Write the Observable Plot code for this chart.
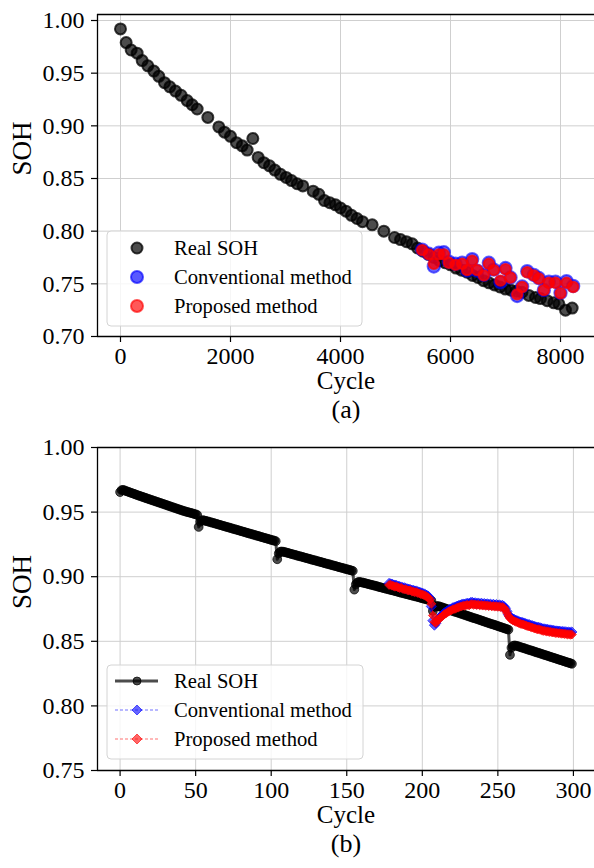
<!DOCTYPE html>
<html>
<head>
<meta charset="utf-8">
<script src="https://cdn.jsdelivr.net/npm/d3@7"></script>
<script src="https://cdn.jsdelivr.net/npm/@observablehq/plot@0.6"></script>
<style>
  html, body { margin: 0; padding: 0; background: #fff; }
  #wrap { position: relative; width: 594px; height: 868px; overflow: hidden; }
  #wrap svg { position: absolute; left: 0; display: block; overflow: visible; }
</style>
</head>
<body>
<div id="wrap"></div>
<script>
// ---------- (a) long-term cycling: SOH sampled every ~100 cycles ----------
const realCycleA = [0, 103, 194, 303, 394, 497, 606, 697, 800, 897, 1000, 1103, 1212, 1303, 1394, 1588, 1788, 1891, 2000, 2109, 2212, 2303, 2406, 2503, 2606, 2709, 2806, 2909, 3012, 3109, 3212, 3315, 3503, 3606, 3709, 3806, 3909, 4000, 4100, 4200, 4300, 4400, 4576, 4788, 4982, 5091, 5200, 5303, 5400, 5500, 5600, 5700, 5800, 5900, 6000, 6100, 6200, 6300, 6400, 6500, 6600, 6700, 6800, 6900, 7000, 7100, 7200, 7300, 7424, 7545, 7636, 7758, 7879, 7970, 8091, 8212];
const realSohA = [0.992, 0.979, 0.972, 0.969, 0.962, 0.957, 0.952, 0.947, 0.941, 0.937, 0.933, 0.929, 0.924, 0.920, 0.916, 0.908, 0.899, 0.894, 0.890, 0.884, 0.881, 0.877, 0.888, 0.870, 0.865, 0.862, 0.858, 0.854, 0.851, 0.848, 0.845, 0.843, 0.838, 0.835, 0.829, 0.827, 0.825, 0.822, 0.819, 0.815, 0.812, 0.809, 0.806, 0.800, 0.794, 0.792, 0.790, 0.788, 0.784, 0.781, 0.778, 0.775, 0.772, 0.770, 0.768, 0.765, 0.763, 0.761, 0.758, 0.756, 0.753, 0.751, 0.749, 0.747, 0.745, 0.744, 0.743, 0.742, 0.739, 0.737, 0.736, 0.734, 0.732, 0.731, 0.725, 0.727];

const predCycleA = [5485, 5606, 5697, 5788, 5879, 5970, 6091, 6212, 6303, 6394, 6485, 6606, 6697, 6788, 6909, 7000, 7091, 7212, 7303, 7394, 7515, 7606, 7697, 7788, 7909, 8000, 8109, 8230];
const convSohA = [0.7825, 0.7785, 0.7665, 0.7795, 0.7800, 0.7710, 0.7690, 0.7700, 0.7625, 0.7735, 0.7625, 0.7585, 0.7700, 0.7635, 0.7515, 0.7650, 0.7560, 0.7385, 0.7475, 0.7620, 0.7585, 0.7555, 0.7440, 0.7520, 0.7520, 0.7415, 0.7525, 0.7480];
const propSohA = [0.782, 0.778, 0.769, 0.778, 0.778, 0.770, 0.768, 0.769, 0.763, 0.772, 0.763, 0.758, 0.769, 0.763, 0.753, 0.764, 0.756, 0.740, 0.747, 0.761, 0.758, 0.755, 0.744, 0.751, 0.751, 0.741, 0.751, 0.747];

const xTicksA = [0, 2000, 4000, 6000, 8000];
const yTicksA = [0.70, 0.75, 0.80, 0.85, 0.90, 0.95, 1.00];

// ---------- (b) one SOH value per cycle, cycles 0..299 ----------
const realSohB = [
  // cycles 0-51
  0.9655, 0.9670, 0.9672, 0.9668, 0.9663, 0.9659, 0.9655, 0.9650, 0.9646, 0.9642,
  0.9638, 0.9633, 0.9629, 0.9625, 0.9621, 0.9617, 0.9613, 0.9609, 0.9605, 0.9601,
  0.9597, 0.9593, 0.9589, 0.9585, 0.9581, 0.9577, 0.9573, 0.9569, 0.9565, 0.9561,
  0.9557, 0.9553, 0.9549, 0.9545, 0.9541, 0.9537, 0.9533, 0.9529, 0.9525, 0.9521,
  0.9517, 0.9513, 0.9509, 0.9506, 0.9502, 0.9499, 0.9496, 0.9493, 0.9490, 0.9486,
  0.9483, 0.9478,
  // cycles 52-103
  0.9385, 0.9425, 0.9436, 0.9437, 0.9434, 0.9431, 0.9428, 0.9425, 0.9421, 0.9418,
  0.9415, 0.9411, 0.9408, 0.9404, 0.9401, 0.9398, 0.9394, 0.9391, 0.9387, 0.9384,
  0.9381, 0.9377, 0.9374, 0.9370, 0.9367, 0.9364, 0.9360, 0.9357, 0.9353, 0.9350,
  0.9347, 0.9343, 0.9340, 0.9336, 0.9333, 0.9330, 0.9326, 0.9323, 0.9319, 0.9316,
  0.9313, 0.9309, 0.9306, 0.9302, 0.9299, 0.9296, 0.9292, 0.9289, 0.9285, 0.9282,
  0.9279, 0.9275,
  // cycles 104-154
  0.9135, 0.9180, 0.9193, 0.9195, 0.9193, 0.9190, 0.9187, 0.9184, 0.9181, 0.9177,
  0.9174, 0.9171, 0.9168, 0.9164, 0.9161, 0.9158, 0.9155, 0.9152, 0.9148, 0.9145,
  0.9142, 0.9139, 0.9135, 0.9132, 0.9129, 0.9126, 0.9123, 0.9119, 0.9116, 0.9113,
  0.9110, 0.9106, 0.9103, 0.9100, 0.9097, 0.9094, 0.9090, 0.9087, 0.9084, 0.9081,
  0.9077, 0.9074, 0.9071, 0.9068, 0.9065, 0.9061, 0.9058, 0.9055, 0.9052, 0.9048,
  0.9045,
  // cycles 155-206
  0.8900, 0.8940, 0.8955, 0.8960, 0.8958, 0.8956, 0.8953, 0.8950, 0.8947, 0.8944,
  0.8941, 0.8938, 0.8935, 0.8932, 0.8929, 0.8926, 0.8922, 0.8919, 0.8916, 0.8913,
  0.8910, 0.8907, 0.8904, 0.8901, 0.8898, 0.8895, 0.8892, 0.8889, 0.8886, 0.8883,
  0.8879, 0.8876, 0.8873, 0.8870, 0.8867, 0.8864, 0.8861, 0.8858, 0.8855, 0.8852,
  0.8849, 0.8846, 0.8843, 0.8840, 0.8836, 0.8833, 0.8830, 0.8827, 0.8824, 0.8821,
  0.8818, 0.8815,
  // cycles 207-257
  0.8735, 0.8765, 0.8772, 0.8773, 0.8771, 0.8767, 0.8763, 0.8759, 0.8755, 0.8751,
  0.8747, 0.8743, 0.8739, 0.8735, 0.8731, 0.8727, 0.8724, 0.8720, 0.8716, 0.8712,
  0.8708, 0.8704, 0.8700, 0.8696, 0.8692, 0.8688, 0.8684, 0.8680, 0.8677, 0.8673,
  0.8669, 0.8665, 0.8661, 0.8657, 0.8653, 0.8649, 0.8645, 0.8641, 0.8637, 0.8633,
  0.8630, 0.8626, 0.8622, 0.8618, 0.8614, 0.8610, 0.8606, 0.8602, 0.8598, 0.8594,
  0.8590,
  // cycles 258-299
  0.8395, 0.8450, 0.8465, 0.8468, 0.8466, 0.8463, 0.8459, 0.8455, 0.8451, 0.8448,
  0.8444, 0.8440, 0.8436, 0.8432, 0.8429, 0.8425, 0.8421, 0.8417, 0.8413, 0.8410,
  0.8406, 0.8402, 0.8398, 0.8394, 0.8391, 0.8387, 0.8383, 0.8379, 0.8375, 0.8372,
  0.8368, 0.8364, 0.8360, 0.8356, 0.8353, 0.8349, 0.8345, 0.8341, 0.8337, 0.8334,
  0.8330, 0.8326
];

// predictions start at cycle 178 and run to 299
const predStartB = 178;
const convSohB = [
  0.8948, 0.8944, 0.8942, 0.8936, 0.8934, 0.8932, 0.8926, 0.8924, 0.8920, 0.8916,
  0.8914, 0.8910, 0.8906, 0.8904, 0.8900, 0.8896, 0.8894, 0.8890, 0.8888, 0.8884,
  0.8880, 0.8876, 0.8872, 0.8868, 0.8862, 0.8856, 0.8848, 0.8830, 0.8770, 0.8660,
  0.8625, 0.8640, 0.8664, 0.8680, 0.8692, 0.8702, 0.8714, 0.8722, 0.8730, 0.8738,
  0.8746, 0.8750, 0.8758, 0.8762, 0.8766, 0.8772, 0.8776, 0.8780, 0.8784, 0.8788,
  0.8786, 0.8792, 0.8794, 0.8792, 0.8800, 0.8802, 0.8796, 0.8798, 0.8792, 0.8796,
  0.8790, 0.8794, 0.8788, 0.8792, 0.8786, 0.8790, 0.8784, 0.8788, 0.8782, 0.8786,
  0.8780, 0.8784, 0.8778, 0.8782, 0.8776, 0.8778, 0.8770, 0.8756, 0.8732, 0.8706,
  0.8688, 0.8678, 0.8672, 0.8668, 0.8662, 0.8658, 0.8652, 0.8648, 0.8646, 0.8642,
  0.8638, 0.8634, 0.8630, 0.8628, 0.8622, 0.8620, 0.8616, 0.8612, 0.8608, 0.8608,
  0.8604, 0.8600, 0.8596, 0.8596, 0.8592, 0.8592, 0.8588, 0.8588, 0.8584, 0.8584,
  0.8580, 0.8580, 0.8578, 0.8578, 0.8574, 0.8576, 0.8572, 0.8574, 0.8570, 0.8572,
  0.8568, 0.8572
];
const propSohB = [
  0.8936, 0.8938, 0.8930, 0.8928, 0.8922, 0.8924, 0.8916, 0.8912, 0.8914, 0.8906,
  0.8902, 0.8904, 0.8896, 0.8893, 0.8895, 0.8886, 0.8884, 0.8880, 0.8882, 0.8874,
  0.8871, 0.8866, 0.8862, 0.8858, 0.8852, 0.8846, 0.8838, 0.8822, 0.8790, 0.8700,
  0.8650, 0.8642, 0.8660, 0.8672, 0.8684, 0.8692, 0.8704, 0.8712, 0.8718, 0.8728,
  0.8734, 0.8738, 0.8746, 0.8750, 0.8752, 0.8760, 0.8762, 0.8768, 0.8770, 0.8776,
  0.8774, 0.8780, 0.8782, 0.8778, 0.8786, 0.8788, 0.8782, 0.8786, 0.8780, 0.8784,
  0.8778, 0.8782, 0.8776, 0.8780, 0.8774, 0.8778, 0.8772, 0.8776, 0.8770, 0.8774,
  0.8768, 0.8772, 0.8766, 0.8770, 0.8764, 0.8766, 0.8758, 0.8744, 0.8720, 0.8696,
  0.8678, 0.8668, 0.8660, 0.8656, 0.8650, 0.8646, 0.8640, 0.8636, 0.8632, 0.8630,
  0.8624, 0.8620, 0.8616, 0.8614, 0.8608, 0.8606, 0.8600, 0.8598, 0.8592, 0.8594,
  0.8588, 0.8586, 0.8580, 0.8582, 0.8576, 0.8578, 0.8572, 0.8574, 0.8568, 0.8570,
  0.8564, 0.8566, 0.8562, 0.8564, 0.8558, 0.8560, 0.8556, 0.8558, 0.8552, 0.8556,
  0.8550, 0.8552
];

const xTicksB = [0, 50, 100, 150, 200, 250, 300];
const yTicksB = [0.75, 0.80, 0.85, 0.90, 0.95, 1.00];

const seriesNames = ["Real SOH", "Conventional method", "Proposed method"];

// ---------- shared styling ----------
const FONT = "'Liberation Serif', 'Times New Roman', serif";
const GRID = {stroke: "#cfcfcf", strokeOpacity: 1, strokeWidth: 1};
const SPINE = {stroke: "#000", strokeWidth: 1.3};
const TICK_FS = 24;

const realA = realCycleA.map((c, i) => ({cycle: c, soh: realSohA[i]}));
const predA = predCycleA.map((c, i) => ({cycle: c, conv: convSohA[i], prop: propSohA[i]}));
const realB = realSohB.map((s, i) => ({cycle: i, soh: s}));
const predB = propSohB.map((s, i) => ({cycle: predStartB + i, conv: convSohB[i], prop: s}));

const xDomainA = [-418, 8618];
const yDomainA = [0.70, 1.0057];
const xDomainB = [-14.95, 313.95];
const yDomainB = [0.75, 1.00];

function frameAndAxes(xTicks, yTicks, tag) {
  return [
    Plot.gridX({ticks: xTicks, ...GRID}),
    Plot.gridY({ticks: yTicks, ...GRID}),
    Plot.axisX({ticks: xTicks, tickSize: 6, tickPadding: 4, fontSize: TICK_FS, tickFormat: "d", label: null, strokeWidth: 1.2}),
    Plot.axisY({ticks: yTicks, tickSize: 6, tickPadding: 7, fontSize: TICK_FS, tickFormat: ".2f", label: null, strokeWidth: 1.2}),
    Plot.text(["SOH"], {text: d => d, frameAnchor: "left", rotate: -90, dx: -75, fontSize: 27, fill: "#000"}),
    Plot.text(["Cycle"], {text: d => d, frameAnchor: "bottom", dy: 52, fontSize: 25, fill: "#000"}),
    Plot.text([tag], {text: d => d, frameAnchor: "bottom", dy: 81, fontSize: 26, fill: "#000"})
  ];
}

function spines(xDomain, yDomain) {
  return [
    Plot.ruleX([xDomain[0]], SPINE),
    Plot.ruleY(yDomain, SPINE)
  ];
}

// ---------- chart (a) ----------
const chartA = Plot.plot({
  width: 594, height: 440,
  marginTop: 14, marginBottom: 104, marginLeft: 97, marginRight: 0,
  style: {fontFamily: FONT, background: "transparent", color: "#000"},
  x: {domain: xDomainA},
  y: {domain: yDomainA},
  marks: [
    ...frameAndAxes(xTicksA, yTicksA, "(a)"),
    Plot.dot(realA, {x: "cycle", y: "soh", r: 5.5, fill: "#000", fillOpacity: 0.7, stroke: "#000", strokeOpacity: 0.75, strokeWidth: 2}),
    Plot.dot(predA, {x: "cycle", y: "conv", r: 6.2, fill: "#0000ff", fillOpacity: 0.6, stroke: "#0000ff", strokeOpacity: 0.6, strokeWidth: 2}),
    Plot.dot(predA, {x: "cycle", y: "prop", r: 5.2, fill: "#ff0000", fillOpacity: 0.8, stroke: "#ff0000", strokeOpacity: 0.75, strokeWidth: 2}),
    ...spines(xDomainA, yDomainA)
  ]
});

// ---------- chart (b) ----------
const chartB = Plot.plot({
  width: 594, height: 428,
  marginTop: 7, marginBottom: 98, marginLeft: 97, marginRight: 0,
  style: {fontFamily: FONT, background: "transparent", color: "#000"},
  x: {domain: xDomainB},
  y: {domain: yDomainB},
  marks: [
    ...frameAndAxes(xTicksB, yTicksB, "(b)"),
    Plot.line(realB, {x: "cycle", y: "soh", stroke: "#000", strokeOpacity: 0.7, strokeWidth: 3}),
    Plot.dot(realB, {x: "cycle", y: "soh", r: 4.4, fill: "#000", fillOpacity: 0.7, stroke: "#000", strokeOpacity: 0.7, strokeWidth: 1}),
    Plot.line(predB, {x: "cycle", y: "conv", stroke: "#0000ff", strokeOpacity: 0.7, strokeWidth: 0.8, strokeDasharray: "3,2"}),
    Plot.dot(predB, {x: "cycle", y: "conv", symbol: "diamond2", r: 4.6, fill: "#0000ff", fillOpacity: 0.6, stroke: "#0000ff", strokeOpacity: 0.6, strokeWidth: 1}),
    Plot.line(predB, {x: "cycle", y: "prop", stroke: "#ff0000", strokeOpacity: 0.7, strokeWidth: 0.8, strokeDasharray: "3,2"}),
    Plot.dot(predB, {x: "cycle", y: "prop", symbol: "diamond2", r: 4, fill: "#ff0000", fillOpacity: 0.75, stroke: "#ff0000", strokeOpacity: 0.7, strokeWidth: 1}),
    ...spines(xDomainB, yDomainB)
  ]
});

// ---------- legends ----------
function legend(svg, box, rowYs, kind) {
  const g = d3.select(svg).append("g")
    .attr("font-family", FONT).attr("font-size", 20.6).attr("fill", "#000")
    .attr("text-anchor", "start");
  g.append("rect")
    .attr("x", box.x).attr("y", box.y).attr("width", box.w).attr("height", box.h)
    .attr("rx", 4).attr("fill", "#fff").attr("fill-opacity", 0.8)
    .attr("stroke", "#d4d4d4").attr("stroke-width", 1);
  const colors = ["#000", "#0000ff", "#ff0000"];
  const mx = box.x + 30;
  seriesNames.forEach((name, i) => {
    const y = rowYs[i];
    const c = colors[i];
    if (kind === "dots") {
      g.append("circle").attr("cx", mx).attr("cy", y).attr("r", i === 0 ? 5.5 : 6)
        .attr("fill", c).attr("fill-opacity", i === 0 ? 0.7 : 0.65)
        .attr("stroke", c).attr("stroke-opacity", i === 0 ? 0.75 : 0.65).attr("stroke-width", 2);
    } else {
      g.append("line").attr("x1", mx - 22).attr("x2", mx + 21).attr("y1", y).attr("y2", y)
        .attr("stroke", c).attr("stroke-opacity", 0.7)
        .attr("stroke-width", i === 0 ? 3 : 0.8)
        .attr("stroke-dasharray", i === 0 ? null : "3,2");
      if (i === 0) {
        g.append("circle").attr("cx", mx).attr("cy", y).attr("r", 4)
          .attr("fill", c).attr("fill-opacity", 0.7).attr("stroke", c).attr("stroke-opacity", 0.7);
      } else {
        const s = 5;
        g.append("path").attr("d", `M${mx},${y - s}L${mx + s},${y}L${mx},${y + s}L${mx - s},${y}Z`)
          .attr("fill", c).attr("fill-opacity", 0.6).attr("stroke", c).attr("stroke-opacity", 0.6);
      }
    }
    g.append("text").attr("x", box.x + 67).attr("y", y).attr("dy", "0.35em")
      .attr("text-anchor", "start").text(name);
  });
}

legend(chartA, {x: 107, y: 231, w: 255, h: 95}, [248, 277, 306], "dots");
legend(chartB, {x: 107, y: 225, w: 256, h: 94}, [241, 270, 299], "lines");

const wrap = document.getElementById("wrap");
chartA.style.top = "0px";
chartB.style.top = "440px";
wrap.appendChild(chartA);
wrap.appendChild(chartB);
</script>
</body>
</html>
